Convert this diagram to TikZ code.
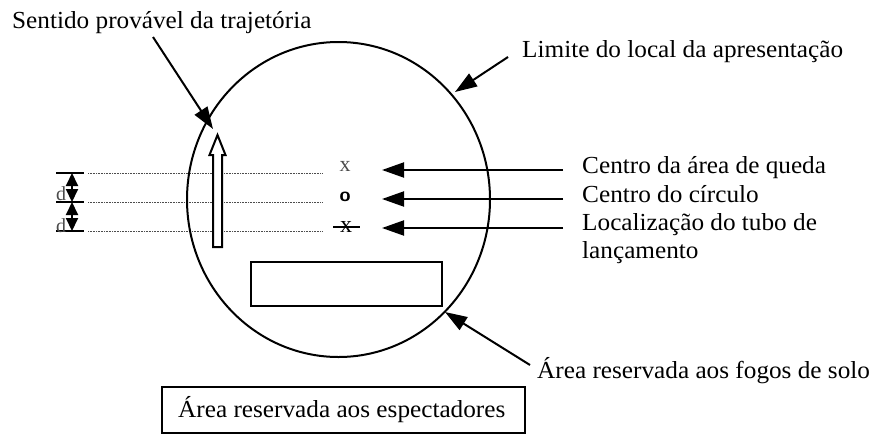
\documentclass[tikz,border=0pt]{standalone}
\usepackage{fontspec}
\setmainfont{Liberation Serif}
\usetikzlibrary{arrows.meta}
\begin{document}
\begin{tikzpicture}[x=1pt,y=-1pt,
  lbl/.style={anchor=base west, inner sep=0pt, font=\fontsize{24.5}{29}\selectfont, xscale=1.03, transform shape},
  small/.style={inner sep=0pt, font=\fontsize{20}{20}\selectfont, text=black!70},
  ptr/.style={line width=2pt, -{Triangle[length=22pt,width=15pt]}},
  dim/.style={line width=2pt, {Triangle[length=13pt,width=12pt]}-{Triangle[length=13pt,width=12pt]}},
  tick/.style={line width=2.2pt},
  guide/.style={densely dotted, line width=0.6pt, black!70},
  outline/.style={line width=2pt}]
\useasboundingbox (0,0) rectangle (877,434);

% dotted guide lines
\coordinate (g1a) at (88,173); \coordinate (g1b) at (323,173);
\coordinate (g2a) at (88,202); \coordinate (g2b) at (323,202);
\coordinate (g3a) at (88,231); \coordinate (g3b) at (323,231);
\draw[guide] (g1a) -- (g1b);
\draw[guide] (g2a) -- (g2b);
\draw[guide] (g3a) -- (g3b);

% presentation boundary
\coordinate (c) at (338.5,199.5);
\draw[outline] (c) ellipse [x radius=151.5pt, y radius=157.5pt];

% hollow trajectory arrow
\draw[outline, fill=white] (213,247) -- (213,155) -- (209.5,155) -- (217.5,135)
  -- (225.5,155) -- (222,155) -- (222,247) -- cycle;

% ground fireworks area
\node[draw, line width=2pt, minimum width=191pt, minimum height=44pt, inner sep=0pt] (ground) at (346.5,284) {};

% spectators box
\node[draw, line width=2pt, minimum width=363pt, minimum height=46pt, inner sep=0pt] (spect) at (343.5,410) {};
\node[lbl] (spectT) at (178,417) {Área reservada aos espectadores};

% dimension marks
\coordinate (t1a) at (56,173); \coordinate (t1b) at (84,173);
\coordinate (t2a) at (56,202); \coordinate (t2b) at (84,202);
\coordinate (t3a) at (56,231); \coordinate (t3b) at (84,231);
\draw[tick] (t1a) -- (t1b);
\draw[tick] (t2a) -- (t2b);
\draw[tick] (t3a) -- (t3b);
\coordinate (d1) at (72,173); \coordinate (d2) at (72,202); \coordinate (d3) at (72,231);
\draw[dim] (d1) -- (d2);
\draw[dim] (d2) -- (d3);
\node[small] (dA) at (61,194) {d};
\node[small] (dB) at (61,226) {d};

% centre marks
\node[small, font=\fontsize{22}{22}\selectfont] (mq) at (345,166) {x};
\node[inner sep=0pt, font=\sffamily\bfseries\fontsize{20}{20}\selectfont] (mc) at (345,197) {o};
\coordinate (xl) at (333,227); \coordinate (xr) at (360,227);
\draw[line width=1.6pt] (xl) -- (xr);
\node[inner sep=0pt, font=\fontsize{24}{24}\selectfont] (mt) at (346,226.5) {x};

% labels
\node[lbl] (sent) at (12,28) {Sentido provável da trajetória};
\node[lbl] (lim) at (522,57) {Limite do local da apresentação};
\node[lbl] (cq) at (582,173) {Centro da área de queda};
\node[lbl] (cc) at (582,202) {Centro do círculo};
\node[lbl] (lt) at (582,230) {Localização do tubo de};
\node[lbl] (lt2) at (582,258) {lançamento};
\node[lbl] (fog) at (537,378) {Área reservada aos fogos de solo};

% pointers
\coordinate (sentS) at (153,37); \coordinate (sentE) at (213,129);
\draw[ptr] (sentS) -- (sentE);
\coordinate (limS) at (508,57); \coordinate (limE) at (455,92);
\draw[ptr] (limS) -- (limE);
\coordinate (cqS) at (563,170); \coordinate (cqE) at (382,170);
\draw[ptr] (cqS) -- (cqE);
\coordinate (ccS) at (563,199); \coordinate (ccE) at (382,199);
\draw[ptr] (ccS) -- (ccE);
\coordinate (ltS) at (563,228); \coordinate (ltE) at (382,228);
\draw[ptr] (ltS) -- (ltE);
\coordinate (fogS) at (530,365); \coordinate (fogE) at (445,312);
\draw[ptr] (fogS) -- (fogE);
\end{tikzpicture}
\end{document}
